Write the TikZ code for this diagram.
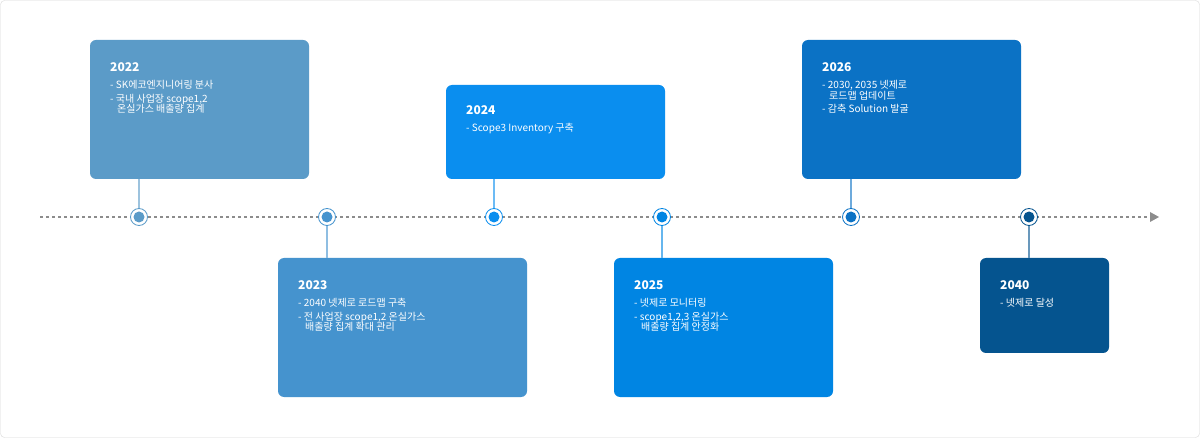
\documentclass[tikz,border=0pt]{standalone}
\usepackage{fontspec}
\setmainfont{Noto Sans CJK KR}
\usetikzlibrary{calc,positioning}
\tikzset{
		>=stealth
	}
\definecolor{cA}{HTML}{5B9BC8}
\definecolor{cB}{HTML}{4593CE}
\definecolor{cC}{HTML}{0A8EEF}
\definecolor{cD}{HTML}{0085E3}
\definecolor{cE}{HTML}{0B72C5}
\definecolor{cF}{HTML}{05548F}
\tikzset{
		txt/.style={anchor=north west,text=white,align=left,font=\fontsize{10pt}{14.5pt}\selectfont,inner sep=0pt},
		stem/.style={line width=1.2pt},
		dot/.style={circle,fill=white,draw=#1,line width=0.8pt,minimum size=17pt,inner sep=0pt,
			path picture={\fill[#1] (path picture bounding box.center) circle (5.5pt);}}
	}
\begin{document}
\begin{tikzpicture}[x=1pt,y=-1pt]
          \draw[rounded corners=4pt,draw=black!15,fill=white] (0.5,0.5) rectangle (1199.5,437.5);
          \useasboundingbox (0,0) rectangle (1200,438);

          \draw[black!45,line width=1.2pt,dash pattern=on 3pt off 3pt] (40,217) -- (1150,217);
          \fill[black!45] (1150,212) -- (1159,217) -- (1150,222) -- cycle;

          % boxes
          \fill[cA,rounded corners=6pt] (90,40) rectangle (309,179);
          \fill[cB,rounded corners=6pt] (278,258) rectangle (527,397);
          \fill[cC,rounded corners=6pt] (446,85) rectangle (665,179);
          \fill[cD,rounded corners=6pt] (614,258) rectangle (833,397);
          \fill[cE,rounded corners=6pt] (802,40) rectangle (1021,179);
          \fill[cF,rounded corners=6pt] (980,258) rectangle (1109,353);

          % stems
          \draw[stem,cA!60] (139,179) -- (139,217);
          \draw[stem,cB!60] (327,217) -- (327,258);
          \draw[stem,cC!60] (494,179) -- (494,217);
          \draw[stem,cD!60] (662,217) -- (662,258);
          \draw[stem,cE!60] (851,179) -- (851,217);
          \draw[stem,cF!60] (1029,217) -- (1029,258);

          % dots
          \node[dot=cA] (d22) at (139,217) {};
          \node[dot=cB] (d23) at (327,217) {};
          \node[dot=cC] (d24) at (494,217) {};
          \node[dot=cD] (d25) at (662,217) {};
          \node[dot=cE] (d26) at (851,217) {};
          \node[dot=cF] (d40) at (1029,217) {};

          % texts
          \node[txt] (t22) at (110,62) {{\fontsize{12pt}{14pt}\selectfont\bfseries 2022}\\[3pt]
            - SK에코엔지니어링 분사\\[-1pt]
            - 국내 사업장 scope1,2\\[-4pt]
            \hspace*{7pt}온실가스 배출량 집계};
          \node[txt] (t23) at (298,280) {{\fontsize{12pt}{14pt}\selectfont\bfseries 2023}\\[3pt]
            - 2040 넷제로 로드맵 구축\\[-1pt]
            - 전 사업장 scope1,2 온실가스\\[-4pt]
            \hspace*{7pt}배출량 집계 확대 관리};
          \node[txt] (t24) at (466,105) {{\fontsize{12pt}{14pt}\selectfont\bfseries 2024}\\[3pt]
            - Scope3 Inventory 구축};
          \node[txt] (t25) at (634,280) {{\fontsize{12pt}{14pt}\selectfont\bfseries 2025}\\[3pt]
            - 넷제로 모니터링\\[-1pt]
            - scope1,2,3 온실가스\\[-4pt]
            \hspace*{7pt}배출량 집계 안정화};
          \node[txt] (t26) at (822,62) {{\fontsize{12pt}{14pt}\selectfont\bfseries 2026}\\[3pt]
            - 2030, 2035 넷제로\\[-4pt]
            \hspace*{7pt}로드맵 업데이트\\[-1pt]
            - 감축 Solution 발굴};
          \node[txt] (t40) at (1000,280) {{\fontsize{12pt}{14pt}\selectfont\bfseries 2040}\\[3pt]
            - 넷제로 달성};
          \end{tikzpicture}
\end{document}
